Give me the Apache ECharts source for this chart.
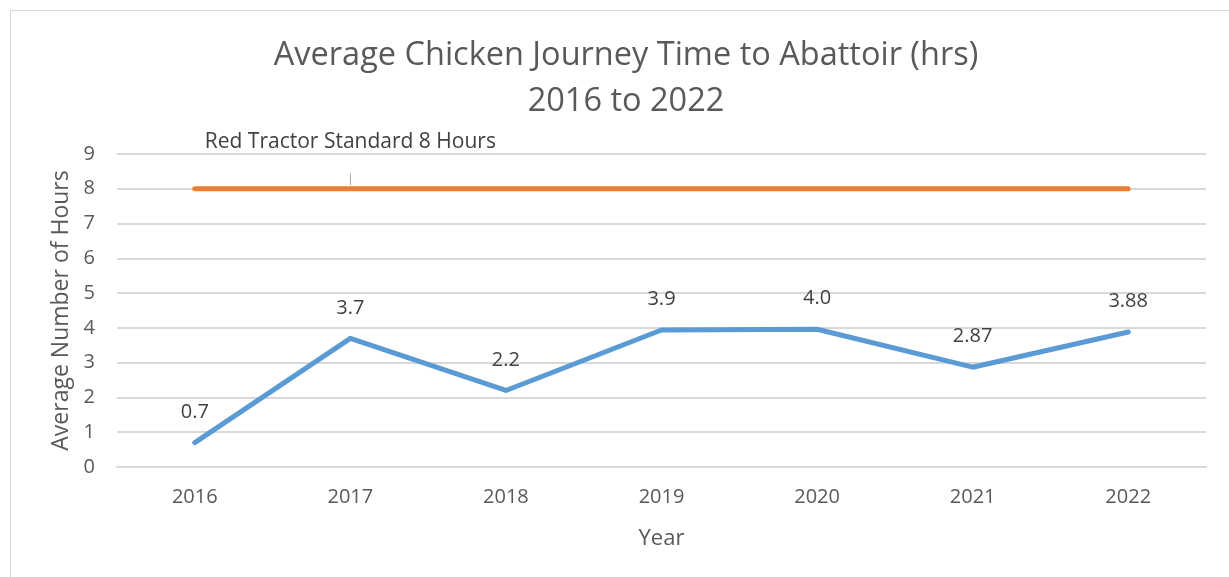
<!DOCTYPE html>
<html>
<head>
<meta charset="utf-8">
<script src="https://cdn.jsdelivr.net/npm/echarts@6/dist/echarts.min.js"></script>
<style>
  html, body { margin: 0; padding: 0; background: #fff; overflow: hidden; }
  #frame { position: absolute; left: 10px; top: 10px; width: 1400px; height: 800px; border: 1px solid #d9d9d9; }
  #chart { position: absolute; left: 0; top: 0; width: 1229px; height: 577px; }
</style>
</head>
<body>
<div id="frame"></div>
<div id="chart"></div>
<script>
// data
const years = ['2016', '2017', '2018', '2019', '2020', '2021', '2022'];
const journeyHours = [0.7, 3.7, 2.2, 3.94, 3.96, 2.87, 3.88];
const journeyLabels = ['0.7', '3.7', '2.2', '3.9', '4.0', '2.87', '3.88'];
const standardHours = [8, 8, 8, 8, 8, 8, 8];
const standardLabelIndex = 1;
const yTicks = [0, 1, 2, 3, 4, 5, 6, 7, 8, 9];

const font = '"Open Sans", "Noto Sans", sans-serif';
const textColor = '#595959';

let myChart = echarts.init(document.getElementById('chart'));

let option = {
  backgroundColor: 'transparent',
  animation: false,
  title: {
    text: 'Average Chicken Journey Time to Abattoir (hrs)\n2016 to 2022',
    left: 621,
    textAlign: 'center',
    top: 28,
    textStyle: {
      fontFamily: font,
      fontSize: 32.5,
      fontWeight: 'normal',
      color: textColor,
      lineHeight: 46
    }
  },
  grid: {
    left: 117,
    right: 23,
    top: 154,
    bottom: 110
  },
  xAxis: {
    type: 'category',
    data: years,
    boundaryGap: true,
    name: 'Year',
    nameLocation: 'middle',
    nameGap: 61,
    nameTextStyle: { fontFamily: font, fontSize: 22, color: textColor },
    axisTick: { show: false },
    axisLine: { lineStyle: { color: '#d9d9d9', width: 2 } },
    axisLabel: { fontFamily: font, fontSize: 20, color: textColor, margin: 20 }
  },
  yAxis: {
    type: 'value',
    min: yTicks[0],
    max: yTicks[yTicks.length - 1],
    interval: 1,
    name: 'Average Number of Hours',
    nameLocation: 'middle',
    nameGap: 42,
    nameTextStyle: { fontFamily: font, fontSize: 23, color: textColor },
    axisLine: { show: false },
    axisTick: { show: false },
    axisLabel: { fontFamily: font, fontSize: 20, color: textColor, margin: 22 },
    splitLine: { lineStyle: { color: '#d9d9d9', width: 2 } }
  },
  series: [
    {
      name: 'Average',
      type: 'line',
      data: journeyHours,
      symbol: 'circle',
      showSymbol: true,
      symbolSize: 1,
      itemStyle: { color: '#5b9bd5' },
      lineStyle: { color: '#5b9bd5', width: 5, cap: 'round', join: 'round' },
      label: {
        show: true,
        position: 'top',
        distance: 20,
        fontFamily: font,
        fontSize: 20,
        color: '#404040',
        formatter: p => journeyLabels[p.dataIndex]
      },
      labelLayout: { hideOverlap: false },
      z: 3
    },
    {
      name: 'Red Tractor Standard',
      type: 'line',
      data: standardHours.map((v, i) => i === standardLabelIndex ? {
        value: v,
        label: {
          show: true,
          position: 'top',
          distance: 3,
          formatter: '{t|Red Tractor Standard 8 Hours}\n{bar|}',
          rich: {
            t: { fontFamily: font, fontSize: 21, color: '#404040', height: 62, align: 'center' },
            bar: { width: 1, height: 12, backgroundColor: '#a6a6a6', align: 'center' }
          }
        }
      } : v),
      symbol: 'circle',
      showSymbol: true,
      symbolSize: 1,
      itemStyle: { color: '#ed7d31' },
      lineStyle: { color: '#ed7d31', width: 5, cap: 'round' },
      z: 2
    }
  ]
};

myChart.setOption(option);
window.onresize = function () {
  myChart.resize();
};
</script>
</body>
</html>
